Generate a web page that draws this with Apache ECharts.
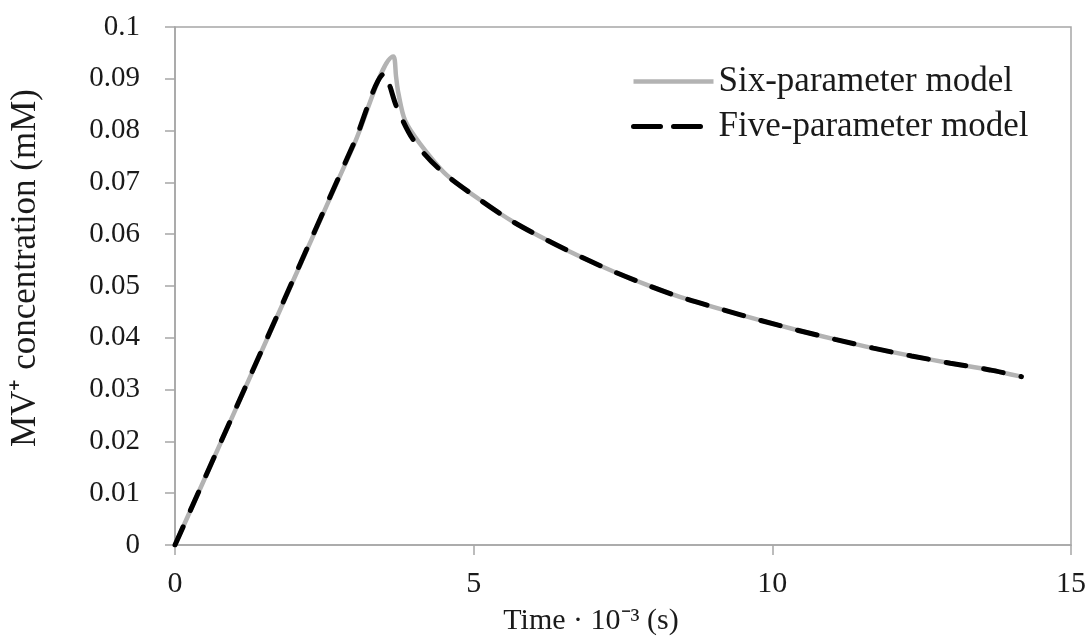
<!DOCTYPE html>
<html>
<head>
<meta charset="utf-8">
<script src="https://cdn.jsdelivr.net/npm/echarts@6/dist/echarts.min.js"></script>
<style>
  html, body { margin: 0; padding: 0; background: #ffffff; }
  #chart { width: 1090px; height: 641px; }
</style>
</head>
<body>
<div id="chart"></div>
<script>
// Time (ms) and MV+ concentration (mM) for the six-parameter model
const sixTime = [0, 1.0, 2.0, 3.0, 3.655, 3.70, 3.74, 3.85, 4.10, 4.55, 5.11, 5.66, 6.22, 6.78, 7.34, 7.90, 8.45, 9.15, 9.79, 10.41, 11.05, 11.69, 12.33, 12.98, 13.64, 14.17];
const sixConc = [0, 0.0258, 0.0516, 0.0774, 0.0943, 0.0905, 0.0872, 0.0820, 0.0775, 0.0714, 0.0666, 0.0624, 0.0589, 0.0557, 0.0528, 0.0502, 0.0479, 0.0455, 0.0434, 0.0415, 0.0397, 0.0380, 0.0365, 0.0351, 0.0338, 0.0325];

// Time (ms) and MV+ concentration (mM) for the five-parameter model
const fiveTime = [0, 1.0, 2.0, 3.0, 3.52, 3.60, 3.71, 3.99, 4.44, 5.11, 5.66, 6.22, 6.78, 7.34, 7.90, 8.45, 9.15, 9.79, 10.41, 11.05, 11.69, 12.33, 12.98, 13.64, 14.17];
const fiveConc = [0, 0.0259, 0.0518, 0.0777, 0.0911, 0.0885, 0.0846, 0.0782, 0.0724, 0.0666, 0.0624, 0.0589, 0.0557, 0.0528, 0.0502, 0.0479, 0.0455, 0.0434, 0.0415, 0.0397, 0.0380, 0.0365, 0.0351, 0.0338, 0.0325];

const seriesNames = ['Six-parameter model', 'Five-parameter model'];
const yTickLabels = ['0', '0.01', '0.02', '0.03', '0.04', '0.05', '0.06', '0.07', '0.08', '0.09', '0.1'];
const xTickLabels = ['0', '5', '10', '15'];

const pair = (ts, cs) => ts.map((t, i) => [t, cs[i]]);

const FONT = '"Liberation Serif", "Times New Roman", serif';
const AXIS_GRAY = '#a6a6a6';
const SIX_GRAY = '#b3b3b3';

const chart = echarts.init(document.getElementById('chart'), null, { renderer: 'canvas' });

chart.setOption({
  backgroundColor: '#ffffff',
  animation: false,
  textStyle: { fontFamily: FONT, color: '#1a1a1a' },
  grid: {
    left: 175, right: 19, top: 27, bottom: 96,
    outerBoundsMode: 'none',
    containLabel: false,
    show: true, borderColor: AXIS_GRAY, borderWidth: 1.5, backgroundColor: 'transparent'
  },
  legend: {
    orient: 'vertical',
    left: 626, top: 59,
    itemWidth: 80, itemHeight: 14, itemGap: 10,
    itemStyle: { opacity: 0 },
    textStyle: { fontFamily: FONT, fontSize: 35, lineHeight: 34, color: '#1a1a1a' },
    data: [
      { name: seriesNames[0], lineStyle: { width: 4.5 } },
      { name: seriesNames[1], lineStyle: { type: [27, 13], width: 5 } }
    ]
  },
  xAxis: {
    type: 'value', min: 0, max: 15, interval: 5,
    name: 'Time · 10⁻³ (s)', nameLocation: 'middle', nameGap: 61,
    nameTextStyle: { fontFamily: FONT, fontSize: 30, color: '#1a1a1a', padding: [0, 64, 0, 0] },
    axisLine: { show: true, lineStyle: { color: AXIS_GRAY, width: 1.5 } },
    axisTick: { show: true, inside: false, length: 10, lineStyle: { color: AXIS_GRAY, width: 1.5 } },
    axisLabel: {
      fontFamily: FONT, fontSize: 30, color: '#1a1a1a', margin: 24,
      formatter: v => xTickLabels[Math.round(v / 5)]
    },
    splitLine: { show: false }
  },
  yAxis: {
    type: 'value', min: 0, max: 0.1, interval: 0.01,
    name: 'MV⁺ concentration (mM)', nameLocation: 'middle', nameGap: 132,
    nameTextStyle: { fontFamily: FONT, fontSize: 35, color: '#1a1a1a', padding: [0, 0, 0, 36] },
    axisLine: { show: true, lineStyle: { color: AXIS_GRAY, width: 1.5 } },
    axisTick: { show: true, inside: false, length: 10, lineStyle: { color: AXIS_GRAY, width: 1.5 } },
    axisLabel: {
      fontFamily: FONT, fontSize: 29, color: '#1a1a1a', margin: 35,
      formatter: v => yTickLabels[Math.round(v * 100)]
    },
    splitLine: { show: false }
  },
  series: [
    {
      name: seriesNames[0], type: 'line', smooth: 0.3, symbol: 'none',
      data: pair(sixTime, sixConc),
      lineStyle: { color: SIX_GRAY, width: 4.5 },
      itemStyle: { color: SIX_GRAY },
      z: 2
    },
    {
      name: seriesNames[1], type: 'line', smooth: 0.3, symbol: 'none',
      data: pair(fiveTime, fiveConc),
      lineStyle: { color: '#000000', width: 5, type: [20, 18], cap: 'round' },
      itemStyle: { color: '#000000' },
      z: 3
    }
  ]
});
</script>
</body>
</html>
